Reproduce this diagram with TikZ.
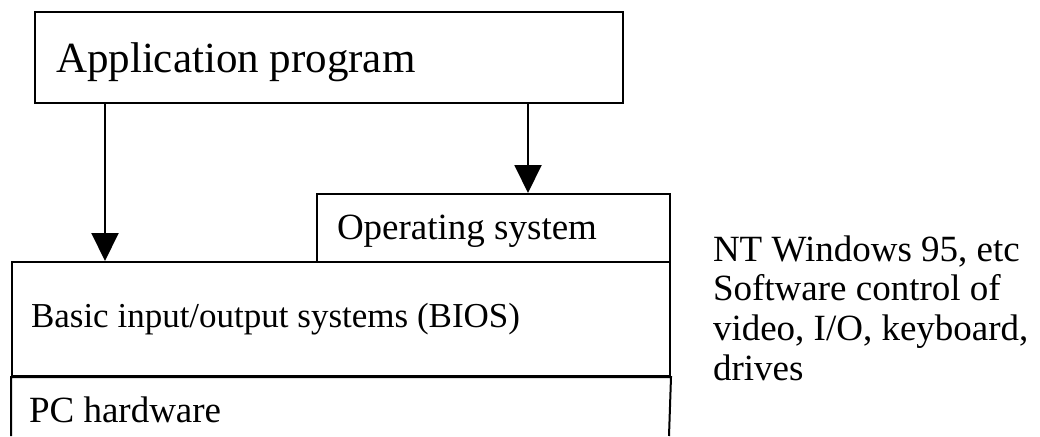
\documentclass[tikz,border=0pt]{standalone}
\usepackage{fontspec}
\setmainfont{Liberation Serif}
\usetikzlibrary{arrows.meta}
\begin{document}
\begin{tikzpicture}[x=1pt,y=-1pt, line width=2pt,
  box/.style={draw, rectangle, inner sep=0pt, anchor=north west},
  lbl/.style={anchor=base west, inner sep=0pt},
  arr/.style={-{Triangle[width=27pt,length=28pt]}},
  bigfont/.style={font=\fontsize{43}{50}\selectfont},
  midfont/.style={font=\fontsize{37}{39.7}\selectfont},
  biosfont/.style={font=\fontsize{35}{40}\selectfont}]
\useasboundingbox (0,0) rectangle (1040,436);
% boxes
\node[box, minimum width=588pt, minimum height=91pt] (app) at (34,11) {};
\node[box, minimum width=353pt, minimum height=68pt] (os) at (316,193) {};
\node[box, minimum width=658pt, minimum height=114pt] (bios) at (11,261) {};
\coordinate (pcl) at (11,436);
\coordinate (pcr) at (669,436);
\draw (pcl) |- (bios.south east) -- (pcr);
% texts
\node[lbl, bigfont] (apptext) at (55,72.5) {Application program};
\node[lbl, midfont] (ostext) at (336,239) {Operating system};
\node[lbl, biosfont] (biostext) at (30,327) {Basic input/output systems (BIOS)};
\node[lbl, midfont] (pctext) at (28,422) {PC hardware};
\node[anchor=north west, inner sep=0pt, align=left, midfont] (note) at (712,234.5)
  {NT Windows 95, etc\\Software control of\\video, I/O, keyboard,\\drives};
% arrows
\coordinate (a1) at (105,102);
\coordinate (a2) at (528,102);
\draw[arr] (a1) -- (a1 |- bios.north);
\draw[arr] (a2) -- (a2 |- os.north);
\end{tikzpicture}
\end{document}
